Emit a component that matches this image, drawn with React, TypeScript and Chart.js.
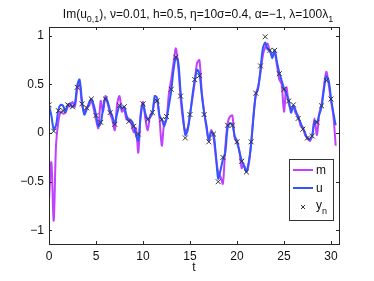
import React, { useEffect, useRef } from "react";
import { Chart, registerables } from "chart.js";

Chart.register(...registerables);

const STEP = 0.25;
const H = 0.5;

const uValues = [
  0.29, 0.18, 0.04, 0.08, 0.24, 0.29, 0.28, 0.22, 0.29, 0.30, 0.27, 0.30,
  0.49, 0.55, 0.34, 0.19, 0.24, 0.31, 0.35, 0.29, 0.19, 0.07, 0.10, 0.25,
  0.36, 0.32, 0.23, 0.17, 0.10, 0.20, 0.28, 0.25, 0.27, 0.18, 0.12, 0.13,
  0.08, -0.02, -0.08, 0.17, 0.30, 0.20, 0.14, 0.16, 0.20, 0.38, 0.36, 0.18,
  0.14, 0.07, 0.15, 0.28, 0.43, 0.65, 0.78, 0.73, 0.42, 0.18, -0.02, 0.03,
  0.18, 0.38, 0.54, 0.65, 0.61, 0.40, 0.21, 0.08, -0.07, 0.01, -0.01, -0.22,
  -0.47, -0.38, -0.27, -0.20, 0.05, 0.10, 0.09, -0.03, -0.08, -0.19, -0.28, -0.34,
  -0.39, -0.30, -0.12, 0.16, 0.39, 0.46, 0.66, 0.87, 0.93, 0.86, 0.85, 0.77,
  0.85, 0.73, 0.62, 0.54, 0.46, 0.40, 0.34, 0.21, 0.28, 0.23, 0.16, 0.11,
  0.05, 0.00, -0.06, -0.06, -0.03, 0.12, 0.11, 0.19, 0.27, 0.45, 0.58, 0.54,
  0.36, 0.21, 0.08,
];

const mValues = [
  -0.69, -0.30, -0.90, -0.12, 0.12, 0.22, 0.20, 0.21, 0.27, 0.28, 0.32, 0.27,
  0.45, 0.52, 0.30, 0.22, 0.26, 0.28, 0.33, 0.25, 0.14, 0.05, 0.33, 0.22,
  0.38, 0.30, 0.20, 0.13, 0.03, 0.30, 0.38, 0.22, 0.24, 0.14, 0.15, 0.10,
  0.01, 0.05, -0.20, 0.20, 0.32, 0.15, 0.03, 0.18, 0.22, 0.33, 0.34, 0.16,
  -0.13, 0.10, 0.14, 0.40, 0.55, 0.72, 0.87, 0.68, 0.36, 0.14, 0.02, 0.05,
  0.20, 0.35, 0.52, 0.72, 0.75, 0.42, 0.22, 0.05, -0.08, 0.03, -0.04, -0.25,
  -0.40, -0.45, -0.52, -0.15, 0.10, 0.17, 0.18, -0.05, -0.10, -0.18, -0.36, -0.33,
  -0.40, -0.32, -0.10, 0.18, 0.40, 0.48, 0.62, 0.80, 0.88, 0.92, 0.84, 0.80,
  0.82, 0.70, 0.55, 0.50, 0.22, 0.47, 0.30, 0.25, 0.27, 0.20, 0.18, 0.08,
  0.06, -0.02, -0.05, -0.08, -0.02, 0.15, -0.02, 0.20, 0.30, 0.48, 0.63, 0.50,
  0.33, 0.18, -0.13,
];

const yObs = [
  0.29, 0.02, 0.23, 0.23, 0.29, 0.27, 0.47, 0.30, 0.26, 0.35, 0.18, 0.11,
  0.35, 0.21, 0.09, 0.285, 0.27, 0.12, 0.07, -0.01, 0.30, 0.14, 0.21, 0.33,
  0.14, 0.17, 0.45, 0.78, 0.38, -0.05, 0.19, 0.55, 0.59, 0.19, -0.09, -0.01,
  -0.50, -0.25, 0.08, 0.08, -0.09, -0.29, -0.40, -0.09, 0.41, 0.69, 0.99, 0.85,
  0.85, 0.61, 0.45, 0.33, 0.29, 0.15, 0.04, -0.05, -0.03, 0.11, 0.28, 0.54,
  0.35,
];

const xTicks = [0, 5, 10, 15, 20, 25, 30];
const yTicks = [-1, -0.5, 0, 0.5, 1];
const legendLabels = ["m", "u", "y"];

const FONT = "'Liberation Sans', Arial, Helvetica, sans-serif";
const MAGENTA = "#c040ff";
const BLUE = "#3355ff";
const MARK = "#333333";

const fmt = (v: number) => (v < 0 ? "\u2212" + String(-v) : String(v));

const framePlugin = {
  id: "frame",
  afterDraw(chart: any) {
    const { ctx, chartArea: a, scales } = chart;
    ctx.save();
    ctx.strokeStyle = "#262626";
    ctx.lineWidth = 1;
    ctx.strokeRect(Math.round(a.left) + 0.5, Math.round(a.top) + 0.5, Math.round(a.right - a.left), Math.round(a.bottom - a.top));
    const tl = 3;
    ctx.beginPath();
    xTicks.forEach((v) => {
      const x = Math.round(scales.x.getPixelForValue(v)) + 0.5;
      ctx.moveTo(x, a.bottom);
      ctx.lineTo(x, a.bottom - tl);
      ctx.moveTo(x, a.top);
      ctx.lineTo(x, a.top + tl);
    });
    yTicks.forEach((v) => {
      const y = Math.round(scales.y.getPixelForValue(v)) + 0.5;
      ctx.moveTo(a.left, y);
      ctx.lineTo(a.left + tl, y);
      ctx.moveTo(a.right, y);
      ctx.lineTo(a.right - tl, y);
    });
    ctx.stroke();

    const parts = [
      { t: "Im(u", sub: false },
      { t: "0,1", sub: true },
      { t: "), \u03bd=0.01, h=0.5, \u03b7=10\u03c3=0.4, \u03b1=\u22121, \u03bb=100\u03bb", sub: false },
      { t: "1", sub: true },
    ];
    const mainF = `12px ${FONT}`;
    const subF = `9px ${FONT}`;
    let total = 0;
    parts.forEach((p) => {
      ctx.font = p.sub ? subF : mainF;
      total += ctx.measureText(p.t).width;
    });
    let x = (a.left + a.right) / 2 - total / 2 + 4;
    ctx.fillStyle = "#111";
    ctx.textBaseline = "alphabetic";
    ctx.textAlign = "left";
    parts.forEach((p) => {
      ctx.font = p.sub ? subF : mainF;
      ctx.fillText(p.t, x, p.sub ? 22 : 18);
      x += ctx.measureText(p.t).width;
    });

    ctx.font = mainF;
    ctx.textAlign = "center";
    ctx.fillText("t", (a.left + a.right) / 2, 271);

    const lx = 289, ly = 159, lw = 44, lh = 61;
    ctx.fillStyle = "#ffffff";
    ctx.fillRect(lx, ly, lw, lh);
    ctx.strokeStyle = "#333";
    ctx.lineWidth = 1;
    ctx.strokeRect(lx + 0.5, ly + 0.5, lw, lh);
    const rows = [170, 188, 207];
    ctx.lineWidth = 2;
    ctx.strokeStyle = MAGENTA;
    ctx.beginPath();
    ctx.moveTo(293, rows[0]);
    ctx.lineTo(313, rows[0]);
    ctx.stroke();
    ctx.strokeStyle = BLUE;
    ctx.beginPath();
    ctx.moveTo(293, rows[1]);
    ctx.lineTo(313, rows[1]);
    ctx.stroke();
    ctx.strokeStyle = MARK;
    ctx.lineWidth = 1;
    ctx.beginPath();
    ctx.moveTo(301, rows[2] + 2);
    ctx.lineTo(305, rows[2] - 2);
    ctx.moveTo(301, rows[2] - 2);
    ctx.lineTo(305, rows[2] + 2);
    ctx.stroke();
    ctx.fillStyle = "#111";
    ctx.textAlign = "left";
    ctx.font = mainF;
    ctx.fillText(legendLabels[0], 316, rows[0] + 4);
    ctx.fillText(legendLabels[1], 316, rows[1] + 4);
    ctx.fillText(legendLabels[2], 316, rows[2] + 2);
    const yw = ctx.measureText(legendLabels[2]).width;
    ctx.font = subF;
    ctx.fillText("n", 316 + yw, rows[2] + 7);
    ctx.restore();
  },
};

export default function App() {
  const ref = useRef<HTMLCanvasElement>(null);
  useEffect(() => {
    document.body.style.margin = "0";
    const mData = mValues.map((v, i) => ({ x: i * STEP, y: v }));
    const uData = uValues.map((v, i) => ({ x: i * STEP, y: v }));
    const oData = yObs.map((v, i) => ({ x: i * H, y: v }));
    const chart = new Chart(ref.current!, {
      type: "line",
      data: {
        datasets: [
          {
            label: "m",
            data: mData,
            borderColor: MAGENTA,
            borderWidth: 2,
            pointRadius: 0,
            tension: 0.3,
            fill: false,
            order: 3,
          },
          {
            label: "u",
            data: uData,
            borderColor: BLUE,
            borderWidth: 2,
            pointRadius: 0,
            tension: 0.3,
            fill: false,
            order: 2,
          },
          {
            label: "y_n",
            data: oData,
            showLine: false,
            pointStyle: "crossRot",
            pointRadius: 3.5,
            borderColor: MARK,
            pointBorderColor: MARK,
            pointBorderWidth: 1,
            order: 1,
          } as any,
        ],
      },
      options: {
        animation: false,
        responsive: true,
        maintainAspectRatio: false,
        layout: { padding: { top: 27, right: 35, bottom: 0, left: 0 } },
        plugins: { legend: { display: false }, tooltip: { enabled: false }, title: { display: false } },
        scales: {
          x: {
            type: "linear",
            min: 0,
            max: 30.85,
            grid: { display: false, drawTicks: false },
            border: { display: false },
            afterBuildTicks: (s: any) => {
              s.ticks = xTicks.map((v) => ({ value: v }));
            },
            afterFit: (s: any) => {
              s.height = 37;
            },
            ticks: {
              padding: 5,
              maxRotation: 0,
              color: "#111",
              font: { family: FONT, size: 12 },
              callback: (v: any) => fmt(Number(v)),
            },
          },
          y: {
            type: "linear",
            min: -1.14,
            max: 1.09,
            grid: { display: false, drawTicks: false },
            border: { display: false },
            afterBuildTicks: (s: any) => {
              s.ticks = yTicks.map((v) => ({ value: v }));
            },
            afterFit: (s: any) => {
              s.width = 49;
            },
            ticks: {
              padding: 5,
              color: "#111",
              font: { family: FONT, size: 12 },
              callback: (v: any) => fmt(Number(v)),
            },
          },
        },
      },
      plugins: [framePlugin],
    });
    return () => chart.destroy();
  }, []);
  return (
    <div style={{ position: "absolute", left: 0, top: 0, width: 374, height: 281, background: "#fff" }}>
      <canvas ref={ref} />
    </div>
  );
}
